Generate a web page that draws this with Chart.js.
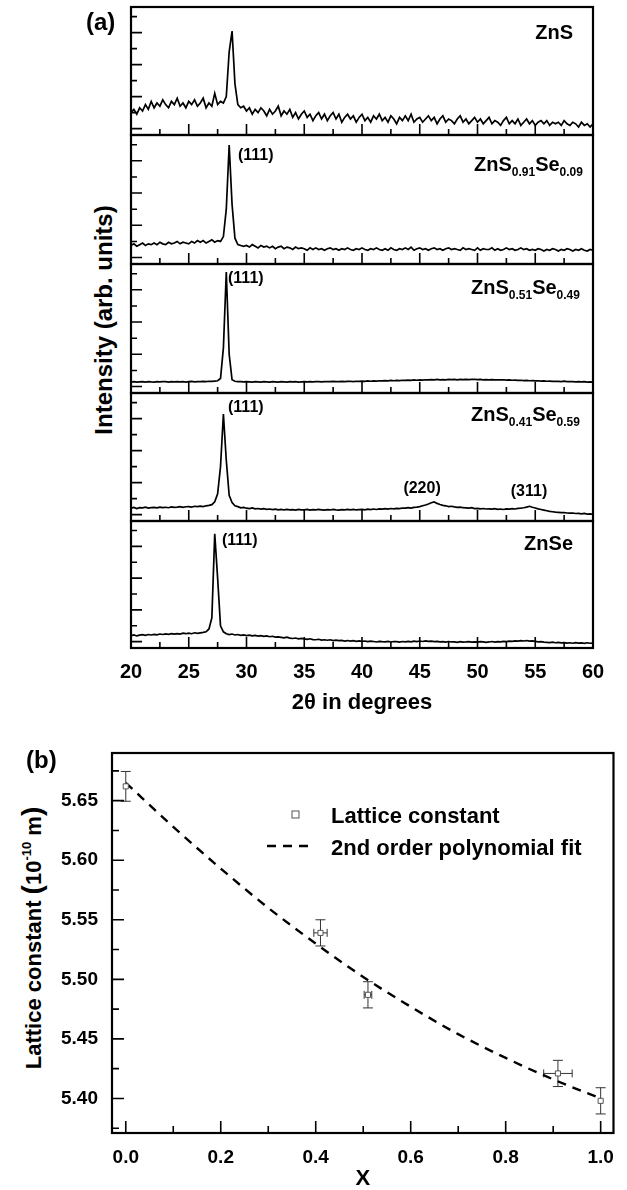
<!DOCTYPE html>
<html>
<head>
<meta charset="utf-8">
<script src="https://cdn.jsdelivr.net/npm/chart.js@4.4.0/dist/chart.umd.min.js"></script>
<style>
  body { margin: 0; width: 627px; height: 1190px; overflow: hidden; position: relative; background: #fff;
         font-family: "Liberation Sans", Arial, sans-serif; color: #000; }
  canvas { position: absolute; left: 0; }
  .ytitle { position: absolute; white-space: nowrap; font-weight: bold; line-height: 1;
            transform: translate(-50%, -50%) rotate(-90deg); }
  .ytitle .big { font-size: 28px; }
  .ytitle .sup { font-size: 13px; position: relative; top: -10px; }
</style>
</head>
<body>
<div class="ytitle" style="left:104px; top:320px; font-size:24px;">Intensity (arb. units)</div>
<div class="ytitle" style="left:32px; top:938px; font-size:22px;">Lattice constant <span class="big">(</span>10<span class="sup">-10</span> m<span class="big">)</span></div>
<script>
const FONT = '"Liberation Sans", Arial, sans-serif';
Chart.defaults.font.family = FONT;
Chart.defaults.color = '#000';

// XRD scans, 2theta from 20 to 60 deg in 0.25 deg steps (arb. units)
const scanStart = 20, scanStep = 0.25;
const znS = [
  1.0, 1.2, 0.9, 1.3, 1.1, 1.5, 1.2, 1.7,
  1.3, 1.6, 1.4, 1.8, 1.5, 1.3, 1.7, 1.5,
  1.9, 1.4, 1.6, 1.3, 1.7, 1.5, 1.8, 1.4,
  1.6, 1.9, 1.3, 1.6, 1.4, 2.2, 1.5, 1.7,
  1.6, 2.0, 4.8, 6.1, 2.8, 1.5, 1.3, 1.4,
  1.1, 1.3, 0.9, 1.2, 1.0, 1.3, 1.1, 0.8,
  1.2, 0.9, 1.1, 1.4, 0.8, 1.1, 0.9, 1.2,
  0.7, 1.0, 0.6, 0.9, 1.1, 0.7, 0.9, 0.5,
  0.8, 1.0, 0.6, 0.9, 0.5, 0.8, 1.0, 0.6,
  0.9, 0.4, 0.7, 0.9, 0.6, 0.8, 0.4, 0.7,
  0.9, 0.5, 0.7, 0.4, 0.8, 0.6, 0.9, 0.5,
  0.7, 0.4, 0.8, 0.6, 0.3, 0.7, 0.5, 0.8,
  0.5, 0.9, 0.4, 0.6, 0.7, 0.4, 0.6, 0.8,
  0.5, 0.7, 0.3, 0.6, 0.8, 0.4, 0.6, 0.5,
  0.3, 0.6, 0.8, 0.4, 0.6, 0.3, 0.5, 0.7,
  0.4, 0.6, 0.3, 0.5, 0.7, 0.3, 0.5, 0.4,
  0.2, 0.5, 0.7, 0.3, 0.5, 0.3, 0.6, 0.2,
  0.4, 0.6, 0.3, 0.5, 0.2, 0.4, 0.5, 0.3,
  0.5, 0.2, 0.4, 0.3, 0.4, 0.2, 0.5, 0.3,
  0.2, 0.4, 0.3, 0.1, 0.4, 0.2, 0.3, 0.1,
  0.3
];
const znS91Se09 = [
  0.75, 0.85, 0.7, 0.8, 0.9, 0.75, 0.85, 0.8,
  0.9, 0.8, 0.95, 0.85, 0.8, 0.95, 0.85, 0.9,
  1.0, 0.85, 0.95, 0.9, 0.85, 1.0, 0.9, 1.05,
  0.95, 1.05, 0.9, 1.0, 1.1, 0.95, 1.05, 1.0,
  1.3, 3.0, 6.97, 3.3, 1.2, 0.8, 0.75, 0.7,
  0.75, 0.65, 0.8, 0.7, 0.6, 0.75, 0.65, 0.7,
  0.6, 0.7, 0.55, 0.65, 0.7, 0.55, 0.65, 0.6,
  0.5, 0.65, 0.55, 0.6, 0.55, 0.45, 0.6, 0.5,
  0.6, 0.5, 0.55, 0.45, 0.55, 0.6, 0.5, 0.55,
  0.45, 0.55, 0.5, 0.6, 0.5, 0.45, 0.55, 0.5,
  0.6, 0.5, 0.45, 0.55, 0.5, 0.6, 0.5, 0.45,
  0.55, 0.45, 0.6, 0.5, 0.45, 0.55, 0.5, 0.6,
  0.5, 0.65, 0.45, 0.55, 0.6, 0.5, 0.55, 0.45,
  0.55, 0.6, 0.5, 0.55, 0.45, 0.55, 0.6, 0.5,
  0.55, 0.5, 0.45, 0.6, 0.5, 0.55, 0.5, 0.45,
  0.6, 0.45, 0.55, 0.5, 0.5, 0.6, 0.45, 0.55,
  0.45, 0.5, 0.6, 0.5, 0.55, 0.45, 0.5, 0.6,
  0.5, 0.55, 0.45, 0.5, 0.45, 0.55, 0.5, 0.4,
  0.5, 0.45, 0.55, 0.5, 0.4, 0.5, 0.45, 0.55,
  0.5, 0.4, 0.5, 0.45, 0.55, 0.45, 0.4, 0.5,
  0.45
];
const znS51Se49 = [
  0.28, 0.3, 0.27, 0.29, 0.3, 0.28, 0.31, 0.29,
  0.28, 0.3, 0.29, 0.31, 0.3, 0.28, 0.3, 0.29,
  0.31, 0.29, 0.3, 0.28, 0.3, 0.32, 0.29, 0.31,
  0.3, 0.32, 0.31, 0.33, 0.32, 0.34, 0.36, 0.5,
  2.4, 7.1, 2.0, 0.42, 0.33, 0.3, 0.31, 0.29,
  0.3, 0.29, 0.28, 0.3, 0.29, 0.28, 0.3, 0.29,
  0.28, 0.3, 0.29, 0.28, 0.3, 0.29, 0.28, 0.3,
  0.29, 0.3, 0.28, 0.29, 0.3, 0.29, 0.31, 0.29,
  0.3, 0.31, 0.29, 0.3, 0.31, 0.3, 0.32, 0.3,
  0.31, 0.32, 0.3, 0.32, 0.33, 0.31, 0.33, 0.32,
  0.34, 0.32, 0.35, 0.33, 0.35, 0.34, 0.36, 0.35,
  0.37, 0.35, 0.38, 0.36, 0.38, 0.37, 0.39, 0.38,
  0.4, 0.38, 0.41, 0.39, 0.41, 0.4, 0.42, 0.41,
  0.43, 0.41, 0.44, 0.42, 0.43, 0.42, 0.44, 0.43,
  0.44, 0.42, 0.45, 0.43, 0.44, 0.43, 0.45, 0.44,
  0.43, 0.44, 0.42, 0.43, 0.42, 0.43, 0.41, 0.42,
  0.41, 0.42, 0.4, 0.41, 0.39, 0.4, 0.38, 0.39,
  0.37, 0.38, 0.36, 0.37, 0.35, 0.36, 0.34, 0.35,
  0.33, 0.34, 0.32, 0.33, 0.32, 0.31, 0.33, 0.3,
  0.31, 0.3, 0.29, 0.31, 0.29, 0.3, 0.28, 0.29,
  0.28
];
const znS41Se59 = [
  0.4, 0.45, 0.38, 0.43, 0.42, 0.46, 0.41, 0.44,
  0.45, 0.42, 0.47, 0.44, 0.46, 0.43, 0.48, 0.45,
  0.47, 0.5, 0.45, 0.49, 0.5, 0.47, 0.52, 0.5,
  0.53, 0.5, 0.55, 0.58, 0.62, 0.8, 1.3, 3.0,
  6.29, 3.4, 1.2, 0.75, 0.55, 0.5, 0.42, 0.45,
  0.4, 0.38, 0.42, 0.36, 0.38, 0.34, 0.37, 0.33,
  0.35, 0.31, 0.34, 0.3, 0.33, 0.29, 0.32, 0.3,
  0.31, 0.28, 0.32, 0.29, 0.3, 0.33, 0.28, 0.31,
  0.29, 0.32, 0.3, 0.28, 0.31, 0.29, 0.33, 0.3,
  0.28, 0.31, 0.29, 0.32, 0.3, 0.33, 0.29, 0.31,
  0.33, 0.3, 0.34, 0.31, 0.35, 0.32, 0.36, 0.34,
  0.37, 0.34, 0.38, 0.36, 0.39, 0.37, 0.41, 0.4,
  0.43, 0.41, 0.45, 0.47, 0.5, 0.55, 0.6, 0.66,
  0.74, 0.79, 0.7, 0.63, 0.58, 0.55, 0.5, 0.52,
  0.48, 0.45, 0.47, 0.43, 0.42, 0.4, 0.43, 0.38,
  0.39, 0.36, 0.38, 0.35, 0.36, 0.34, 0.37, 0.33,
  0.35, 0.32, 0.36, 0.34, 0.37, 0.35, 0.39, 0.4,
  0.43, 0.47, 0.52, 0.46, 0.41, 0.36, 0.32, 0.28,
  0.24, 0.2, 0.18, 0.15, 0.14, 0.12, 0.13, 0.1,
  0.09, 0.1, 0.07, 0.08, 0.05, 0.07, 0.03, 0.05,
  0.02
];
const znSe = [
  0.38, 0.42, 0.36, 0.41, 0.44, 0.4, 0.45, 0.42,
  0.46, 0.43, 0.48, 0.45, 0.49, 0.46, 0.5, 0.47,
  0.51, 0.48, 0.53, 0.5, 0.54, 0.5, 0.56, 0.52,
  0.55, 0.58, 0.62, 0.8, 1.5, 6.79, 4.0, 1.0,
  0.62, 0.5, 0.45, 0.48, 0.42, 0.45, 0.4, 0.43,
  0.38, 0.41, 0.36, 0.39, 0.35, 0.38, 0.33, 0.36,
  0.31, 0.34, 0.29, 0.3, 0.27, 0.24, 0.28, 0.22,
  0.2, 0.23, 0.18, 0.2, 0.17, 0.14, 0.18, 0.13,
  0.12, 0.15, 0.1, 0.12, 0.09, 0.12, 0.07, 0.1,
  0.06, 0.08, 0.04, 0.07, 0.03, 0.06, 0.02, 0.05,
  0.02, 0.04, 0.0, 0.03, 0.01, -0.02, 0.02, 0.0,
  -0.01, 0.02, -0.02, 0.01, 0.0, -0.03, 0.01, -0.01,
  0.02, -0.01, 0.03, 0.0, 0.04, 0.01, 0.05, 0.02,
  0.03, 0.0, 0.02, -0.01, 0.0, -0.03, 0.01, -0.02,
  -0.01, -0.04, 0.0, -0.03, -0.02, 0.0, -0.03, -0.01,
  -0.03, 0.0, -0.02, -0.04, -0.02, 0.01, -0.03, 0.0,
  -0.01, 0.02, 0.0, 0.03, 0.02, 0.05, 0.03, 0.06,
  0.04, 0.07, 0.03, 0.05, 0.02, -0.01, 0.0, -0.03,
  -0.04, -0.06, -0.03, -0.07, -0.05, -0.08, -0.06, -0.09,
  -0.07, -0.1, -0.06, -0.09, -0.08, -0.11, -0.07, -0.1,
  -0.09
];
const thetaTicks = [20, 25, 30, 35, 40, 45, 50, 55, 60];

// sample names: even items normal text, odd items subscripts
const sampleNames = [
  ['ZnS'],
  ['ZnS', '0.91', 'Se', '0.09'],
  ['ZnS', '0.51', 'Se', '0.49'],
  ['ZnS', '0.41', 'Se', '0.59'],
  ['ZnSe']
];
const reflections = [
  [],
  [['(111)', 29.26, 6.29, 'left']],
  [['(111)', 28.4, 6.66, 'left']],
  [['(111)', 28.4, 6.66, 'left'], ['(220)', 45.2, 1.6, 'center'], ['(311)', 54.46, 1.41, 'center']],
  [['(111)', 27.88, 6.35, 'left']]
];
// right edge (deg) and vertical middle of each sample name
const namePos = [[58.27, 6.04], [59.13, 5.79], [58.87, 6.16], [58.87, 6.26], [58.27, 6.2]];

// lattice constant vs composition x
const xFraction = [0, 0.41, 0.51, 0.91, 1.0];
const xFractionErr = [0, 0.014, 0.008, 0.03, 0];
const latticeConst = [5.662, 5.539, 5.487, 5.421, 5.398];
const latticeErr = [0.0125, 0.011, 0.011, 0.011, 0.011];
const fitX = [0, 0.1, 0.2, 0.3, 0.4, 0.5, 0.6, 0.7, 0.8, 0.9, 1.0];
const fitY = [5.665, 5.628, 5.593, 5.560, 5.530, 5.502, 5.477, 5.454, 5.434, 5.416, 5.400];
const fractionTicks = [0, 0.2, 0.4, 0.6, 0.8, 1.0];
const latticeTicks = [5.40, 5.45, 5.50, 5.55, 5.60, 5.65];

function framePlugin(cfg) {
  return {
    id: 'frame',
    beforeDatasetsDraw(chart) { if (cfg.before) cfg.before(chart); },
    afterDraw(chart) {
      const { ctx, chartArea: a } = chart;
      const xs = chart.scales.x, ys = chart.scales.y;
      ctx.save();
      ctx.strokeStyle = '#000';
      ctx.lineWidth = 1.6;
      ctx.beginPath();
      cfg.xTicks.forEach(([v, len]) => {
        const p = xs.getPixelForValue(v);
        ctx.moveTo(p, a.bottom); ctx.lineTo(p, a.bottom - len);
      });
      cfg.yTicks.forEach(([v, len]) => {
        const p = ys.getPixelForValue(v);
        ctx.moveTo(a.left, p); ctx.lineTo(a.left + len, p);
      });
      ctx.stroke();
      ctx.lineWidth = 2.2;
      ctx.strokeRect(a.left, a.top, a.right - a.left, a.bottom - a.top);
      if (cfg.after) cfg.after(chart);
      ctx.restore();
    }
  };
}

// ---------- (a) stacked XRD panels ----------
const spectra = [znS, znS91Se09, znS51Se49, znS41Se59, znSe];
const edges = [7, 135, 264, 393, 521, 648];
const thetaMinor = thetaTicks.slice(1).map(v => [v - 2.5, 6]);
const intensityTicks = [0, 1, 2, 3, 4, 5, 6, 7].map(v => [v, v % 2 === 0 ? 11 : 6]);

spectra.forEach((vals, i) => {
  const last = i === spectra.length - 1;
  const top = edges[i], bottom = edges[i + 1];
  const axisH = last ? 70 : 0;
  const canvas = document.createElement('canvas');
  canvas.width = 627;
  canvas.height = bottom - top + 6 + axisH;
  canvas.style.top = (top - 3) + 'px';
  document.body.appendChild(canvas);

  const deco = {
    xTicks: thetaTicks.map(v => [v, 11]).concat(thetaMinor),
    yTicks: intensityTicks,
    after(chart) {
      const { ctx } = chart;
      const xs = chart.scales.x, ys = chart.scales.y;
      ctx.fillStyle = '#000';
      // sample name with subscripts, right aligned
      const parts = sampleNames[i];
      const fonts = parts.map((_, k) => k % 2 ? 'bold 12px ' + FONT : 'bold 20px ' + FONT);
      let w = 0;
      parts.forEach((t, k) => { ctx.font = fonts[k]; w += ctx.measureText(t).width; });
      let px = xs.getPixelForValue(namePos[i][0]) - w;
      const base = ys.getPixelForValue(namePos[i][1]) + 7;
      ctx.textAlign = 'left';
      ctx.textBaseline = 'alphabetic';
      parts.forEach((t, k) => {
        ctx.font = fonts[k];
        ctx.fillText(t, px, k % 2 ? base + 5 : base);
        px += ctx.measureText(t).width;
      });
      // reflection labels
      ctx.font = 'bold 16px ' + FONT;
      reflections[i].forEach(([t, x, y, align]) => {
        ctx.textAlign = align;
        ctx.fillText(t, xs.getPixelForValue(x), ys.getPixelForValue(y) + 4);
      });
      if (i === 0) {
        ctx.font = 'bold 24px ' + FONT;
        ctx.textAlign = 'left';
        ctx.fillText('(a)', 86, 30 - (top - 3));
      }
    }
  };

  new Chart(canvas, {
    type: 'line',
    data: {
      datasets: [{
        data: vals.map((v, k) => ({ x: scanStart + k * scanStep, y: v })),
        borderColor: '#000',
        borderWidth: 1.7,
        pointRadius: 0,
        tension: 0
      }]
    },
    options: {
      responsive: false,
      animation: false,
      events: [],
      layout: { padding: { left: 131, right: 34, top: 3, bottom: 3 } },
      plugins: { legend: { display: false }, tooltip: { enabled: false } },
      scales: {
        x: {
          type: 'linear', min: 20, max: 60, display: last,
          afterBuildTicks: s => { s.ticks = thetaTicks.map(v => ({ value: v })); },
          afterFit: s => { s.height = axisH; },
          grid: { display: false, drawTicks: false },
          border: { display: false },
          ticks: { font: { size: 20, weight: 'bold' }, padding: 12, maxRotation: 0, autoSkip: false },
          title: { display: true, text: '2θ in degrees', font: { size: 22, weight: 'bold' }, padding: { top: 0, bottom: 2 } }
        },
        y: { type: 'linear', min: -0.4, max: 7.6, display: false }
      }
    },
    plugins: [framePlugin(deco)]
  });
});

// ---------- (b) lattice constant ----------
const canvasB = document.createElement('canvas');
canvasB.width = 627;
canvasB.height = 470;
canvasB.style.top = '720px';
document.body.appendChild(canvasB);

const fracMinor = fractionTicks.map(v => [v + 0.1, 7]).filter(t => t[0] < 1.02);
const latMinor = [5.375].concat(latticeTicks.map(v => v + 0.025)).map(v => [v, 7]);

new Chart(canvasB, {
  type: 'scatter',
  data: {
    datasets: [
      {
        label: 'Lattice constant',
        data: xFraction.map((x, i) => ({ x, y: latticeConst[i] })),
        pointStyle: 'rect',
        pointRadius: 3.6,
        backgroundColor: '#fff',
        borderColor: '#555',
        borderWidth: 1
      },
      {
        label: '2nd order polynomial fit',
        data: fitX.map((x, i) => ({ x, y: fitY[i] })),
        showLine: true,
        borderColor: '#000',
        borderWidth: 2.4,
        borderDash: [9, 7],
        pointRadius: 0,
        cubicInterpolationMode: 'monotone'
      }
    ]
  },
  options: {
    responsive: false,
    animation: false,
    events: [],
    layout: { padding: { left: 0, right: 3, top: 33, bottom: 0 } },
    plugins: { legend: { display: false }, tooltip: { enabled: false } },
    scales: {
      x: {
        type: 'linear', min: -0.029, max: 1.027,
        afterBuildTicks: s => { s.ticks = fractionTicks.map(v => ({ value: v })); },
        afterFit: s => { s.height = 57; },
        grid: { display: false, drawTicks: false },
        border: { display: false },
        ticks: { callback: v => v.toFixed(1), font: { size: 19, weight: 'bold' }, padding: 13, maxRotation: 0, autoSkip: false },
        title: { display: true, text: 'X', font: { size: 22, weight: 'bold', lineHeight: 1 }, padding: { top: 0, bottom: 0 } }
      },
      y: {
        type: 'linear', min: 5.371, max: 5.690,
        afterBuildTicks: s => { s.ticks = latticeTicks.map(v => ({ value: v })); },
        afterFit: s => { s.width = 112; },
        grid: { display: false, drawTicks: false },
        border: { display: false },
        ticks: { callback: v => v.toFixed(2), font: { size: 19, weight: 'bold' }, padding: 14, autoSkip: false }
      }
    }
  },
  plugins: [framePlugin({
    xTicks: fractionTicks.map(v => [v, 12]).concat(fracMinor),
    yTicks: latticeTicks.map(v => [v, 12]).concat(latMinor),
    before(chart) {
      const { ctx } = chart;
      const xs = chart.scales.x, ys = chart.scales.y;
      ctx.save();
      ctx.strokeStyle = '#333';
      ctx.lineWidth = 1;
      ctx.beginPath();
      xFraction.forEach((xv, i) => {
        const px = xs.getPixelForValue(xv);
        const py = ys.getPixelForValue(latticeConst[i]);
        const yt = ys.getPixelForValue(latticeConst[i] + latticeErr[i]);
        const yb = ys.getPixelForValue(latticeConst[i] - latticeErr[i]);
        ctx.moveTo(px, yt); ctx.lineTo(px, yb);
        ctx.moveTo(px - 5, yt); ctx.lineTo(px + 5, yt);
        ctx.moveTo(px - 5, yb); ctx.lineTo(px + 5, yb);
        if (xFractionErr[i]) {
          const xl = xs.getPixelForValue(xv - xFractionErr[i]);
          const xr = xs.getPixelForValue(xv + xFractionErr[i]);
          ctx.moveTo(xl, py); ctx.lineTo(xr, py);
          ctx.moveTo(xl, py - 4); ctx.lineTo(xl, py + 4);
          ctx.moveTo(xr, py - 4); ctx.lineTo(xr, py + 4);
        }
      });
      ctx.stroke();
      ctx.restore();
    },
    after(chart) {
      const { ctx, chartArea: a } = chart;
      // legend
      ctx.fillStyle = '#fff';
      ctx.strokeStyle = '#555';
      ctx.lineWidth = 1;
      ctx.fillRect(a.left + 180, a.top + 58, 7, 7);
      ctx.strokeRect(a.left + 180, a.top + 58, 7, 7);
      ctx.strokeStyle = '#000';
      ctx.lineWidth = 2.4;
      ctx.setLineDash([9, 7]);
      ctx.beginPath();
      ctx.moveTo(a.left + 155, a.top + 93);
      ctx.lineTo(a.left + 201, a.top + 93);
      ctx.stroke();
      ctx.setLineDash([]);
      ctx.fillStyle = '#000';
      ctx.font = 'bold 22px ' + FONT;
      ctx.textAlign = 'left';
      ctx.textBaseline = 'alphabetic';
      ctx.fillText('Lattice constant', a.left + 219, a.top + 70);
      ctx.fillText('2nd order polynomial fit', a.left + 219, a.top + 102);
      ctx.font = 'bold 24px ' + FONT;
      ctx.fillText('(b)', 26, 48);
    }
  })]
});
</script>
</body>
</html>
